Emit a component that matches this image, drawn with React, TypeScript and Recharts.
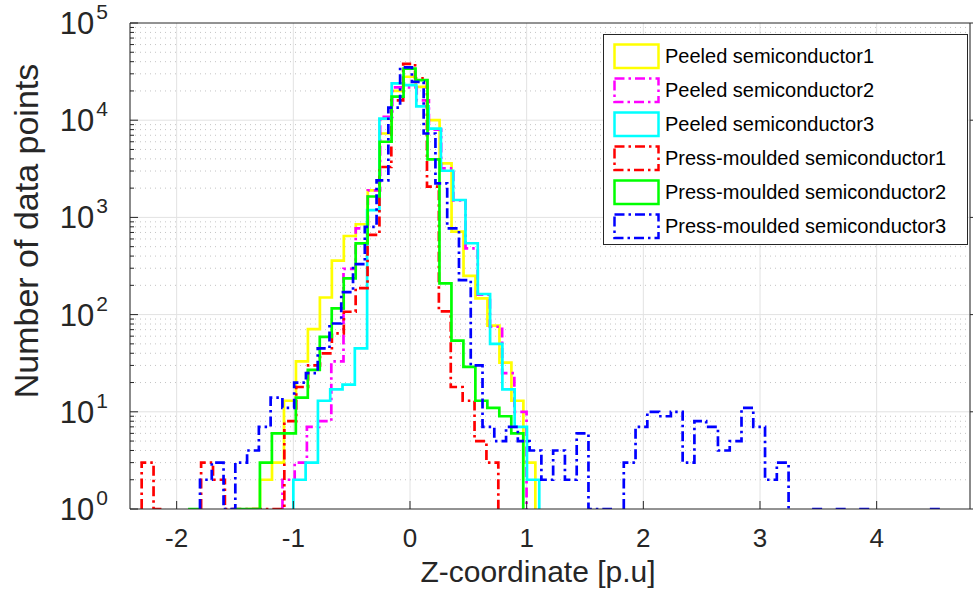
import { LineChart, Line, XAxis, YAxis, CartesianGrid, ReferenceLine } from "recharts";

const W = 973;
const H = 591;
const TOP = 23;
const BOTTOM = 509;
const LEFT = 130;
const FONT = "'Liberation Sans', Arial, Helvetica, sans-serif";
const INK = "#262626";

// axis ticks
const xTicks = [-2, -1, 0, 1, 2, 3, 4];
const yDecades = [1, 10, 100, 1000, 10000, 100000];
const yMinor = [1, 10, 100, 1000, 10000].flatMap((d) => [2, 3, 4, 5, 6, 7, 8, 9].map((m) => d * m));

// histogram bins: first edge, bin width, counts (0 = empty bin)
const peeled1Start = -1.388;
const peeled1Width = 0.1026;
const peeled1Counts = [1, 2, 3, 13, 33, 71, 150, 360, 644, 850, 1900, 7300, 20000, 28000, 22000, 10000, 3600, 713, 250, 147, 77, 32, 13, 3];

const peeled2Start = -1.093;
const peeled2Width = 0.1046;
const peeled2Counts = [2, 3, 7, 8, 33, 295, 770, 1900, 10800, 21800, 21800, 16000, 8000, 3200, 1500, 480, 160, 75, 25, 10];

const peeled3Start = -1.0;
const peeled3Width = 0.1054;
const peeled3Counts = [2, 3, 13, 17, 19, 45, 1190, 10400, 23900, 23000, 13900, 8200, 3020, 1510, 542, 163, 50, 17, 7, 2];

const press1Start = -2.3;
const press1Width = 0.1019;
const press1Counts = [3, 1, 0, 0, 0, 3, 2, 1, 1, 1, 1, 1, 8, 18, 30, 40, 64, 107, 187, 660, 3300, 16000, 38000, 27000, 2070, 108, 18, 13, 5, 3];

const press2Start = -1.902;
const press2Width = 0.1026;
const press2Counts = [1, 0, 0, 0, 1, 1, 3, 6, 6, 14, 27, 59, 116, 236, 540, 1640, 6000, 17500, 34000, 25800, 3950, 210, 54, 29, 13, 11, 9, 6];

const press3Start = -1.8;
const press3Width = 0.1009;
const press3Counts = [
  2, 3, 1, 3, 4, 7, 14, 11, 20, 25, 45, 81, 170, 330, 800, 2400, 13500, 35000, 24800, 7300,
  2240, 770, 226, 30, 7, 5, 7, 5, 4, 2, 4, 2, 6, 1, 1, 0, 3, 7, 10, 9,
  10, 3, 8, 7, 4, 5, 11, 7, 2, 3, 0, 0, 1, 0, 1, 0, 1, 0, 0, 0,
  0, 0, 1,
];

function stairs(start: number, width: number, counts: number[]) {
  const pts: { x: number; y: number | null }[] = [];
  let open = false;
  counts.forEach((c, i) => {
    const left = start + i * width;
    const right = left + width;
    if (c > 0) {
      if (!open) pts.push({ x: left, y: 1 });
      pts.push({ x: left, y: c }, { x: right, y: c });
      open = true;
    } else if (open) {
      pts.push({ x: left, y: 1 }, { x: left, y: null });
      open = false;
    }
  });
  if (open) pts.push({ x: start + counts.length * width, y: 1 });
  return pts;
}

const DASHDOT = "10 4 2.5 4";

const series = [
  { name: "Peeled semiconductor1", color: "#FFFF00", dash: undefined, data: stairs(peeled1Start, peeled1Width, peeled1Counts) },
  { name: "Peeled semiconductor2", color: "#FF00FF", dash: DASHDOT, data: stairs(peeled2Start, peeled2Width, peeled2Counts) },
  { name: "Peeled semiconductor3", color: "#00FFFF", dash: undefined, data: stairs(peeled3Start, peeled3Width, peeled3Counts) },
  { name: "Press-moulded semiconductor1", color: "#FF0000", dash: DASHDOT, data: stairs(press1Start, press1Width, press1Counts) },
  { name: "Press-moulded semiconductor2", color: "#00FF00", dash: undefined, data: stairs(press2Start, press2Width, press2Counts) },
  { name: "Press-moulded semiconductor3", color: "#0000FF", dash: DASHDOT, data: stairs(press3Start, press3Width, press3Counts) },
];

function XTick(props: any) {
  const { x, payload } = props;
  return (
    <g>
      <line x1={x} x2={x} y1={BOTTOM} y2={BOTTOM - 8} stroke={INK} strokeWidth={1} />
      <text x={x} y={547} textAnchor="middle" fontSize={26} fontFamily={FONT} fill={INK}>
        {payload.value}
      </text>
    </g>
  );
}

function TopTick(props: any) {
  const { x } = props;
  return <line x1={x} x2={x} y1={TOP} y2={TOP + 8} stroke={INK} strokeWidth={1} />;
}

function YTick(props: any) {
  const { y, payload } = props;
  const v = payload.value;
  const exp = Math.round(Math.log10(v));
  const major = Math.abs(Math.pow(10, exp) - v) < 1e-6;
  return (
    <g>
      <line x1={LEFT} x2={LEFT + (major ? 8 : 4)} y1={y} y2={y} stroke={INK} strokeWidth={1} />
      {major && (
        <text x={108} y={y + 11} textAnchor="end" fontSize={31} fontFamily={FONT} fill={INK}>
          10
          <tspan fontSize={21} dx={2} dy={-15}>
            {exp}
          </tspan>
        </text>
      )}
    </g>
  );
}

function RightTick(props: any) {
  const { x, y, payload } = props;
  const v = payload.value;
  const exp = Math.round(Math.log10(v));
  const major = Math.abs(Math.pow(10, exp) - v) < 1e-6;
  return <line x1={x} x2={x - (major ? 8 : 4)} y1={y} y2={y} stroke={INK} strokeWidth={1} />;
}

function XTitle() {
  return (
    <text x={538} y={582} textAnchor="middle" fontSize={30} fontFamily={FONT} fill={INK}>
      Z-coordinate [p.u]
    </text>
  );
}

function YTitle() {
  return (
    <text
      x={38}
      y={231}
      transform="rotate(-90 38 231)"
      textAnchor="middle"
      fontSize={34}
      fontFamily={FONT}
      fill={INK}
    >
      Number of data points
    </text>
  );
}

function Legend() {
  return (
    <div
      style={{
        position: "absolute",
        left: 603,
        top: 34,
        width: 365,
        height: 211,
        background: "#fff",
        border: `1px solid ${INK}`,
        boxSizing: "border-box",
        fontFamily: FONT,
      }}
    >
      {series.map((s, i) => (
        <div key={s.name} style={{ position: "absolute", left: 9, top: 8 + i * 34, height: 26, display: "flex", alignItems: "center" }}>
          <svg width={48} height={27} style={{ display: "block" }}>
            <rect x={1.5} y={1.5} width={44} height={23.5} fill="none" stroke={s.color} strokeWidth={2.5} strokeDasharray={s.dash} />
          </svg>
          <span style={{ marginLeft: 4, fontSize: 20, color: "#000", whiteSpace: "nowrap" }}>{s.name}</span>
        </div>
      ))}
    </div>
  );
}

export default function App() {
  return (
    <div style={{ position: "absolute", left: 0, top: 0, width: W, height: H, background: "#fff" }}>
      <LineChart width={W} height={H} margin={{ top: TOP - 1, right: 2, bottom: 0, left: 10 }}>
        <CartesianGrid horizontal={false} stroke="#e2e2e2" strokeWidth={1} />
        {yMinor.map((v) => (
          <ReferenceLine key={`m${v}`} y={v} stroke="#c4c4c4" strokeWidth={1} strokeDasharray="1 4" />
        ))}
        {yDecades.slice(1, -1).map((v) => (
          <ReferenceLine key={`d${v}`} y={v} stroke="#e2e2e2" strokeWidth={1} />
        ))}
        <XAxis
          type="number"
          dataKey="x"
          domain={[-2.4, 4.8]}
          ticks={xTicks}
          allowDataOverflow
          height={H - BOTTOM}
          axisLine={{ stroke: INK }}
          tickLine={false}
          tick={<XTick />}
          interval={0}
          label={<XTitle />}
        />
        <XAxis
          xAxisId="top"
          orientation="top"
          type="number"
          domain={[-2.4, 4.8]}
          ticks={xTicks}
          allowDataOverflow
          height={1}
          axisLine={{ stroke: INK }}
          tickLine={false}
          tick={<TopTick />}
          interval={0}
        />
        <YAxis
          scale="log"
          domain={[1, 100000]}
          ticks={[...yDecades, ...yMinor].sort((a, b) => a - b)}
          allowDataOverflow
          width={LEFT - 10}
          axisLine={{ stroke: INK }}
          tickLine={false}
          tick={<YTick />}
          interval={0}
          label={<YTitle />}
        />
        <YAxis
          yAxisId="right"
          orientation="right"
          scale="log"
          domain={[1, 100000]}
          ticks={[...yDecades, ...yMinor].sort((a, b) => a - b)}
          allowDataOverflow
          width={1}
          axisLine={{ stroke: INK }}
          tickLine={false}
          tick={<RightTick />}
          interval={0}
        />
        {series.map((s) => (
          <Line
            key={s.name}
            data={s.data}
            dataKey="y"
            type="linear"
            stroke={s.color}
            strokeWidth={2.7}
            strokeDasharray={s.dash}
            dot={false}
            activeDot={false}
            connectNulls={false}
            isAnimationActive={false}
          />
        ))}
      </LineChart>
      <Legend />
    </div>
  );
}
